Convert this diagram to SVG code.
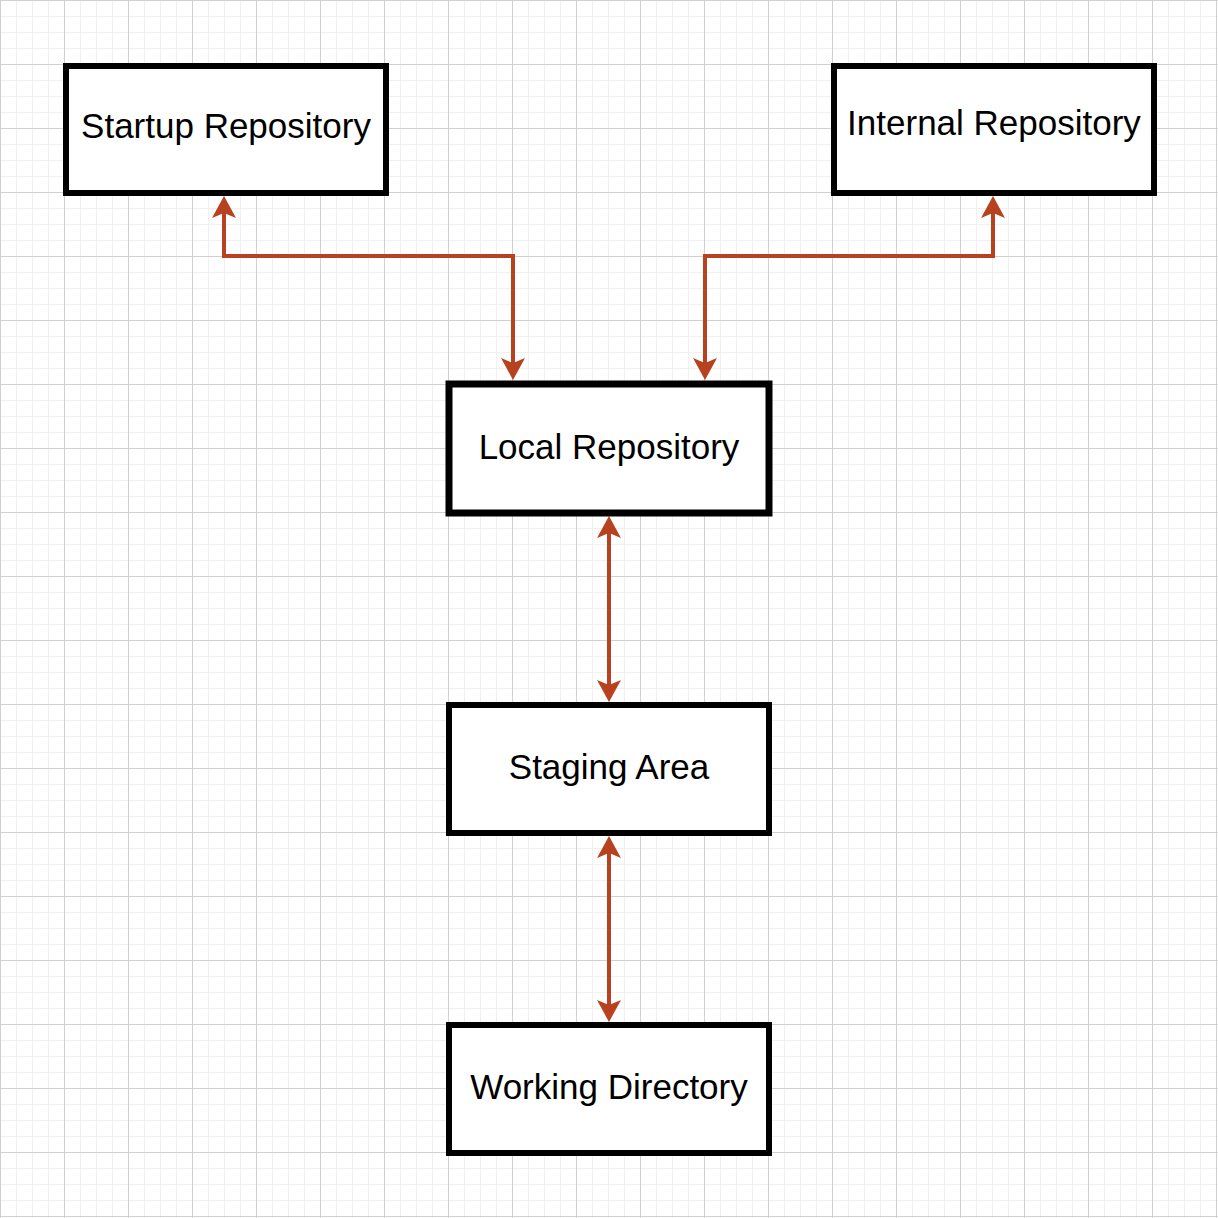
<svg xmlns="http://www.w3.org/2000/svg" width="1218" height="1218" viewBox="0 0 1218 1218">
  <defs>
    <pattern id="grid" patternUnits="userSpaceOnUse" x="0" y="0" width="64" height="64">
      <rect width="64" height="64" fill="#ffffff"/>
      <path d="M16.5 0V64M32.5 0V64M48.5 0V64M0 16.5H64M0 32.5H64M0 48.5H64" stroke="#f0f0f0" stroke-width="1" fill="none"/>
      <path d="M0.5 0V64M0 0.5H64" stroke="#d0d0d0" stroke-width="1" fill="none"/>
    </pattern>
    <marker id="arrow" markerUnits="userSpaceOnUse" markerWidth="24" markerHeight="26" viewBox="0 0 24 26" refX="14" refY="13" orient="auto-start-reverse">
      <path d="M22,13 L0,1 L5,13 L0,25 Z" fill="#b8421f"/>
    </marker>
    <style>
      .box { fill: #ffffff; stroke: #000000; stroke-width: 6; }
      .label { font-family: "Liberation Sans", Arial, Helvetica, sans-serif; font-size: 35px; fill: #000000; text-anchor: middle; }
      .conn { fill: none; stroke: #b8421f; stroke-width: 4; marker-start: url(#arrow); marker-end: url(#arrow); }
    </style>
  </defs>
  <rect x="0" y="0" width="1218" height="1218" fill="url(#grid)"/>

  <g id="connectors">
    <path class="conn" d="M224,204 V256 H513 V372"/>
    <path class="conn" d="M993,204 V256 H705 V372"/>
    <path class="conn" d="M609,524 V694"/>
    <path class="conn" d="M609,844 V1014"/>
  </g>

  <g id="startup-repository">
    <rect class="box" x="66" y="66" width="320" height="127"/>
    <text class="label" x="226" y="138">Startup Repository</text>
  </g>
  <g id="internal-repository">
    <rect class="box" x="834" y="66" width="320" height="127"/>
    <text class="label" x="994" y="135">Internal Repository</text>
  </g>
  <g id="local-repository">
    <rect class="box" x="449" y="384" width="320" height="129" style="stroke-width:7"/>
    <text class="label" x="609" y="459">Local Repository</text>
  </g>
  <g id="staging-area">
    <rect class="box" x="449" y="705" width="320" height="128"/>
    <text class="label" x="609" y="779">Staging Area</text>
  </g>
  <g id="working-directory">
    <rect class="box" x="449" y="1025" width="320" height="128"/>
    <text class="label" x="609" y="1099">Working Directory</text>
  </g>
</svg>
